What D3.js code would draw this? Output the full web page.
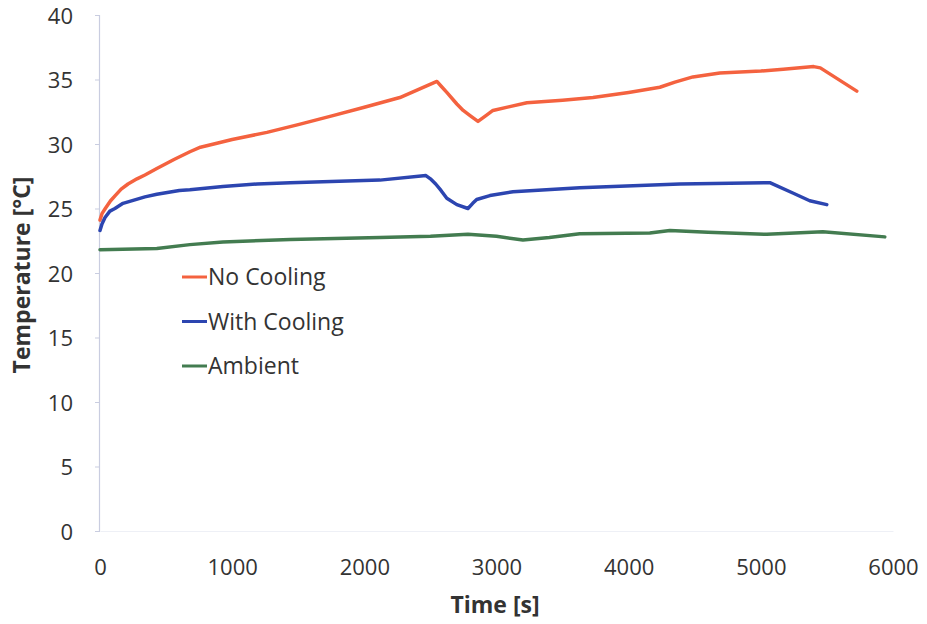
<!DOCTYPE html>
<html>
<head>
<meta charset="utf-8">
<script src="https://cdn.jsdelivr.net/npm/d3@7"></script>
<style>
  html, body { margin: 0; padding: 0; background: #fff; }
  svg { display: block; }
  text { font-family: "Open Sans", "Noto Sans", sans-serif; fill: #333; }
</style>
</head>
<body>
<svg id="chart" width="927" height="624"></svg>
<script>
// ---- data ----
const seriesNames = ["No Cooling", "With Cooling", "Ambient"];
const seriesColors = ["#f4623f", "#2c45b0", "#437c50"];

const noCoolingT = [0, 15, 40, 80, 115, 160, 212, 280, 340, 430, 560, 680, 760, 900, 1000, 1263, 1500, 1762, 2000, 2269, 2549, 2580, 2624, 2700, 2748, 2800, 2860, 2920, 2973, 3100, 3230, 3500, 3730, 4000, 4236, 4350, 4486, 4690, 5000, 5170, 5400, 5450, 5726];
const noCoolingV = [24.1, 24.6, 25.0, 25.6, 26.0, 26.5, 26.9, 27.3, 27.6, 28.1, 28.8, 29.4, 29.75, 30.1, 30.35, 30.9, 31.5, 32.2, 32.85, 33.6, 34.85, 34.5, 34.0, 33.1, 32.6, 32.2, 31.75, 32.2, 32.6, 32.9, 33.2, 33.4, 33.6, 34.0, 34.4, 34.8, 35.2, 35.5, 35.65, 35.8, 36.0, 35.9, 34.1];

const withCoolingT = [0, 15, 38, 75, 113, 174, 340, 430, 600, 680, 930, 1190, 1440, 2118, 2466, 2500, 2540, 2580, 2624, 2700, 2784, 2820, 2850, 2950, 3125, 3630, 4387, 5068, 5242, 5370, 5499];
const withCoolingV = [23.3, 23.8, 24.3, 24.8, 25.0, 25.4, 25.9, 26.1, 26.4, 26.45, 26.7, 26.9, 27.0, 27.2, 27.55, 27.3, 26.9, 26.4, 25.8, 25.3, 25.0, 25.4, 25.7, 26.0, 26.3, 26.6, 26.9, 27.0, 26.2, 25.6, 25.3];

const ambientT = [0, 430, 680, 930, 1440, 2118, 2500, 2784, 3000, 3200, 3400, 3630, 4160, 4312, 4600, 5045, 5469, 5938];
const ambientV = [21.8, 21.9, 22.2, 22.4, 22.6, 22.75, 22.85, 23.0, 22.85, 22.55, 22.75, 23.05, 23.1, 23.3, 23.15, 23.0, 23.2, 22.8];

const xTicks = [0, 1000, 2000, 3000, 4000, 5000, 6000];
const yTicks = [0, 5, 10, 15, 20, 25, 30, 35, 40];
const xTitle = "Time [s]";
const yTitle = "Temperature [°C]";

// ---- drawing ----
const svg = d3.select("#chart");
const x = d3.scaleLinear().domain([0, 6000]).range([100, 893]);
const y = d3.scaleLinear().domain([0, 40]).range([531, 15]);

const series = [
  { name: seriesNames[0], color: seriesColors[0], pts: noCoolingT.map((t, i) => [t, noCoolingV[i]]) },
  { name: seriesNames[1], color: seriesColors[1], pts: withCoolingT.map((t, i) => [t, withCoolingV[i]]) },
  { name: seriesNames[2], color: seriesColors[2], pts: ambientT.map((t, i) => [t, ambientV[i]]) }
];

// y axis
const yAxis = d3.axisLeft(y).tickValues(yTicks).tickSize(4).tickPadding(22).tickFormat(d3.format("d"));
const gy = svg.append("g").attr("transform", "translate(99,0)").call(yAxis);
gy.select(".domain").attr("stroke", "#c9cde0").attr("stroke-width", 1.2);
gy.selectAll(".tick line").attr("stroke", "#c9cde0");
gy.selectAll(".tick text").attr("font-size", 22).attr("fill", "#333").attr("dy", "0.38em")
  .style("font-family", "'Open Sans', sans-serif");

// x axis (labels only, faint baseline)
const xAxis = d3.axisBottom(x).tickValues(xTicks).tickSize(0).tickPadding(28).tickFormat(d3.format("d"));
const gx = svg.append("g").attr("transform", "translate(0,531)").call(xAxis);
gx.select(".domain").attr("stroke", "#eef0f6").attr("stroke-width", 1);
gx.selectAll(".tick text").attr("font-size", 22).attr("fill", "#333")
  .style("font-family", "'Open Sans', sans-serif");

// axis titles
svg.append("text").attr("x", 495).attr("y", 613).attr("text-anchor", "middle")
  .attr("font-size", 23).attr("font-weight", "bold").attr("fill", "#333").text(xTitle);
svg.append("text").attr("transform", "translate(30,275) rotate(-90)").attr("text-anchor", "middle")
  .attr("font-size", 23).attr("font-weight", "bold").attr("fill", "#333").text(yTitle);

// lines
const line = d3.line().x(d => x(d[0])).y(d => y(d[1])).curve(d3.curveLinear);
svg.append("g").selectAll("path").data(series).join("path")
  .attr("d", d => line(d.pts))
  .attr("fill", "none")
  .attr("stroke", d => d.color)
  .attr("stroke-width", 3.5)
  .attr("stroke-linejoin", "round")
  .attr("stroke-linecap", "round");

// legend
const lg = svg.append("g");
series.forEach((s, i) => {
  const ly = 277 + i * 44.5;
  lg.append("line").attr("x1", 182).attr("x2", 207).attr("y1", ly).attr("y2", ly)
    .attr("stroke", s.color).attr("stroke-width", 3);
  lg.append("text").attr("x", 208).attr("y", ly).attr("dy", "0.36em")
    .attr("font-size", 23).attr("fill", "#333").text(s.name);
});
</script>
</body>
</html>
